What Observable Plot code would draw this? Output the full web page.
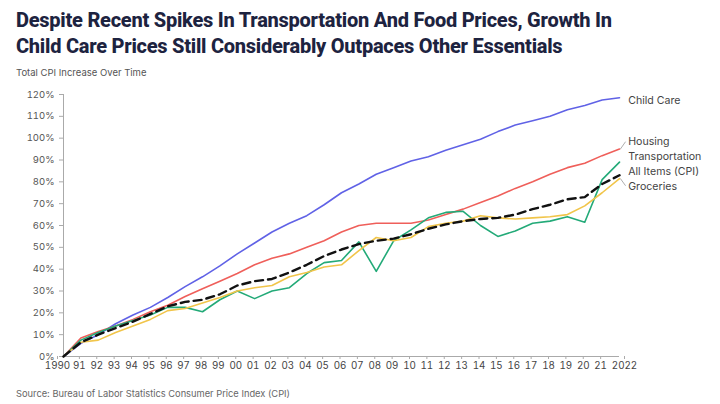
<!DOCTYPE html>
<html>
<head>
<meta charset="utf-8">
<script src="https://cdn.jsdelivr.net/npm/d3@7"></script>
<script src="https://cdn.jsdelivr.net/npm/@observablehq/plot@0.6"></script>
<style>
  html, body { margin: 0; padding: 0; background: #fff; }
  body { width: 720px; height: 404px; position: relative; overflow: hidden; font-family: Inter, "Noto Sans", sans-serif; }
  #title { position: absolute; left: 16px; top: 7px; font-family: Roboto, sans-serif; font-weight: 800; font-size: 20px; line-height: 26px; color: #1d2340; letter-spacing: -0.25px; }
  #subtitle { position: absolute; left: 16px; top: 67px; font-size: 9.5px; color: #555; }
  #chart { position: absolute; left: 0; top: 80px; }
  #source { position: absolute; left: 16px; top: 388px; font-size: 9.3px; color: #666; }
</style>
</head>
<body>
<div id="title">Despite Recent Spikes In Transportation And Food Prices, Growth In<br>Child Care Prices Still Considerably Outpaces Other Essentials</div>
<div id="subtitle">Total CPI Increase Over Time</div>
<div id="chart"></div>
<div id="source">Source: Bureau of Labor Statistics Consumer Price Index (CPI)</div>
<script>
const years = d3.range(1990, 2023);
const xTickLabels = ["1990","91","92","93","94","95","96","97","98","99","00","01","02","03","04","05","06","07","08","09","10","11","12","13","14","15","16","17","18","19","20","21","2022"];
const yTicks = [0,10,20,30,40,50,60,70,80,90,100,110,120];

const childCare =      [0,6,10,15,19,22.5,27,32,36.5,41.5,47,52,57,61,64.5,69.5,75,79,83.5,86.5,89.5,91.5,94.5,97,99.5,103,106,108,110,113,115,117.5,118.5];
const housing =        [0,8.5,11.5,14,17,20.5,23.5,27.5,31,34.5,38,42,45,47,50,53,57,60,61,61,61,62.5,65,67.5,70.5,73.5,77,80,83.5,86.5,88.5,92,95];
const transportation = [0,7.5,11,14,16.5,19,22.5,22.5,20.5,26,30,26.5,30,31.5,38,43,44,52.5,39,53,58,63.5,66,66.5,60,55,57.5,61,62,64,61.5,81,89];
const allItems =       [0,6.5,10,13,16,19.5,23,25,26,28.5,32.5,34.5,35.5,38.5,42,46,49,51.5,53,54,56,58.5,60.5,62,63,63.5,65,67.5,69.5,72,73,79,83];
const groceries =      [0,6.5,7.5,11,14,17,21,22,24.5,27,30,31.5,32.5,36.5,38.5,41,42,48.5,54.5,53,54.5,59.5,61,62,64.5,63.5,63,63.5,64,65,69,75,81.5];

const seriesNames = ["Child Care","Housing","Transportation","All Items (CPI)","Groceries"];
const seriesValues = [childCare, housing, transportation, allItems, groceries];
const seriesColors = ["#6062e6","#ef5f5a","#23aa78","#111111","#f1c54a"];
const labelY = [117, 98.6, 91.7, 84.5, 77.7];

const rows = [];
seriesNames.forEach((name, i) => {
  years.forEach((yr, j) => rows.push({series: name, year: yr, value: seriesValues[i][j]}));
});
const solid = rows.filter(d => d.series !== "All Items (CPI)");
const dashed = rows.filter(d => d.series === "All Items (CPI)");
const labels = seriesNames.map((name, i) => ({series: name, year: 2022.5, value: labelY[i]}));
const leaders = [
  {x1: 2022.05, y1: housing[32], x2: 2022.35, y2: 98.4},
  {x1: 2022.05, y1: groceries[32], x2: 2022.35, y2: 78.2}
];
const fmtX = d => xTickLabels[d - 1990];
const axisStyle = {tickSize: 3, tickPadding: 3, stroke: "#aaa", fill: "#444", label: null, fontSize: 9.8};

const chart = Plot.plot({
  width: 720,
  height: 300,
  marginTop: 14,
  marginBottom: 24,
  marginLeft: 63,
  marginRight: 101,
  style: {fontFamily: "Inter, 'Noto Sans', sans-serif", fontSize: "9.5px", color: "#444", background: "transparent"},
  x: {domain: [1990, 2022], label: null},
  y: {domain: [0, 120], label: null},
  color: {domain: seriesNames, range: seriesColors},
  marks: [
    Plot.axisX({...axisStyle, ticks: years.slice(1, -1), tickFormat: fmtX, dx: -1.5}),
    Plot.axisX({...axisStyle, ticks: [1990], tickFormat: fmtX, dx: -6}),
    Plot.axisX({...axisStyle, ticks: [2022], tickFormat: fmtX, dx: 5}),
    Plot.axisY({ticks: yTicks, tickFormat: d => d + "%", tickSize: 4, tickPadding: 5, stroke: "#aaa", fill: "#555", label: null}),
    Plot.ruleX([1990], {stroke: "#aaa"}),
    Plot.ruleY([0], {stroke: "#aaa"}),
    Plot.line(solid, {x: "year", y: "value", z: "series", stroke: "series", strokeWidth: 1.6}),
    Plot.line(dashed, {x: "year", y: "value", stroke: "#111", strokeWidth: 2.4, strokeDasharray: "8,5"}),
    Plot.link(leaders, {x1: "x1", y1: "y1", x2: "x2", y2: "y2", stroke: "#999", strokeWidth: 0.8}),
    Plot.text(labels, {x: "year", y: "value", text: "series", textAnchor: "start", fill: "#444", fontSize: 10.6})
  ]
});
document.getElementById("chart").appendChild(chart);
</script>
</body>
</html>
